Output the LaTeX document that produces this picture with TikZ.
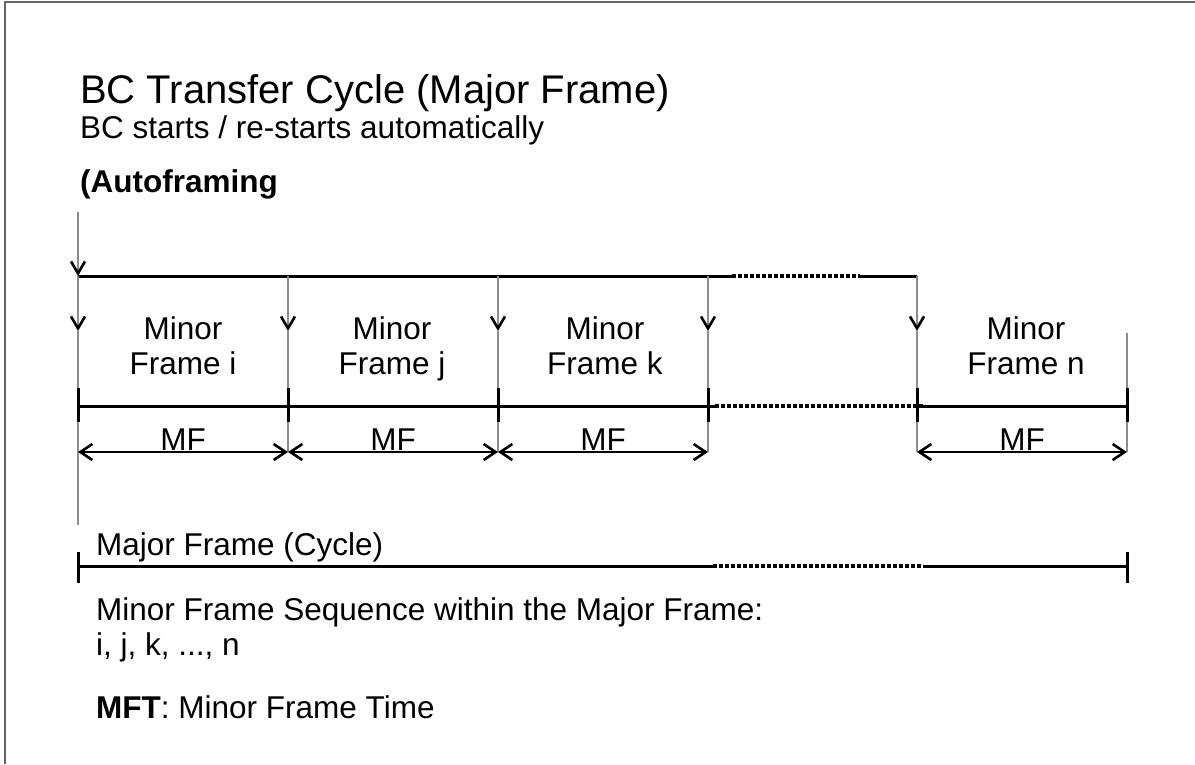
\documentclass[tikz,border=0pt]{standalone}
\usepackage{fontspec}
\setmainfont{Liberation Sans}
\usetikzlibrary{arrows.meta}
\begin{document}
\begin{tikzpicture}[x=1pt,y=-1pt,
  thickline/.style={line width=3pt,black},
  dotline/.style={line width=3.2pt,black,dash pattern=on 3.5pt off 2.5pt},
  guide/.style={line width=1.4pt,draw=black!45},
  downarrow/.style={line width=1.4pt,draw=black!45,-{Straight Barb[length=12pt,width=14pt,line width=2.6pt,color=black]}},
  tickmark/.style={line width=3pt,black},
  dimarrow/.style={line width=1.6pt,black,{Straight Barb[length=12pt,width=16pt,line width=2.6pt]}-{Straight Barb[length=12pt,width=16pt,line width=2.6pt]}},
  lbl/.style={font=\fontsize{31.5}{36}\selectfont,inner sep=0pt},
  boldlbl/.style={font=\fontsize{31.5}{36}\selectfont\bfseries,inner sep=0pt},
  titlelbl/.style={font=\fontsize{40}{46}\selectfont,inner sep=0pt},
  framelinestyle/.style={line width=2pt,draw=black!60}
]
\useasboundingbox (0,0) rectangle (1195,764);
% outer frame (left and top edges visible)
\coordinate (fbl) at (5,764);
\coordinate (ftl) at (5,2);
\coordinate (ftr) at (1195,2);
\draw[framelinestyle] (fbl) -- (ftl) -- (ftr);

% texts
\node[titlelbl,anchor=base west] (title) at (80,103) {BC Transfer Cycle (Major Frame)};
\node[lbl,anchor=base west] (sub) at (80,138) {BC starts / re-starts automatically};
\node[boldlbl,anchor=base west] (auto) at (80,192) {(Autoframing};

% coordinates
\coordinate (start) at (78,212);
\foreach \i/\x in {0/78,1/288,2/498,3/708,4/917}{
  \coordinate (T\i) at (\x,276);
  \coordinate (A\i) at (\x,331);
}
\foreach \i/\x in {0/78,1/288,2/498,3/708,4/917,5/1127}{
  \coordinate (L\i) at (\x,406);
  \coordinate (Lt\i) at (\x,388);
  \coordinate (Lb\i) at (\x,422);
  \coordinate (D\i) at (\x,452);
}
\coordinate (A5) at (1127,333);
\coordinate (G0) at (78,525);
\coordinate (td1) at (732,276);
\coordinate (td2) at (860,276);
\coordinate (ld1) at (715,406);
\coordinate (ld2) at (925,406);

% guide lines
\draw[guide] (A0) -- (G0);
\foreach \i in {1,2,3,4}{ \draw[guide] (A\i) -- (D\i); }
\draw[guide] (A5) -- (D5);

% start arrow
\draw[downarrow] (start) -- (T0);
% top line
\draw[thickline] (T0) -- (td1);
\draw[dotline] (td1) -- (td2);
\draw[thickline] (td2) -- (T4);
% down arrows
\foreach \i in {0,1,2,3,4}{ \draw[downarrow] (T\i) -- (A\i); }

% lower line
\draw[thickline] (L0) -- (L3) -- (ld1);
\draw[dotline] (ld1) -- (ld2);
\draw[thickline] (L4) -- (L5);
\foreach \i in {0,...,5}{ \draw[tickmark] (Lt\i) -- (Lb\i); }

% MF dimension arrows
\draw[dimarrow] (D0) -- (D1);
\draw[dimarrow] (D1) -- (D2);
\draw[dimarrow] (D2) -- (D3);
\draw[dimarrow] (D4) -- (D5);
\node[lbl,anchor=base] (mf1) at (183,450) {MF};
\node[lbl,anchor=base] (mf2) at (393,450) {MF};
\node[lbl,anchor=base] (mf3) at (603,450) {MF};
\node[lbl,anchor=base] (mf4) at (1022,450) {MF};

% minor frame labels
\node[lbl,anchor=base] (mi) at (183,339) {Minor};
\node[lbl,anchor=base] (fi) at (183,374) {Frame i};
\node[lbl,anchor=base] (mj) at (392,339) {Minor};
\node[lbl,anchor=base] (fj) at (392,374) {Frame j};
\node[lbl,anchor=base] (mk) at (605,339) {Minor};
\node[lbl,anchor=base] (fk) at (605,374) {Frame k};
\node[lbl,anchor=base] (mn) at (1026,339) {Minor};
\node[lbl,anchor=base] (fn) at (1026,374) {Frame n};

% major frame line
\coordinate (M0) at (78,566);
\coordinate (M1) at (1127,566);
\coordinate (md1) at (713,566);
\coordinate (md2) at (923,566);
\coordinate (Mt0) at (78,552);
\coordinate (Mb0) at (78,583);
\coordinate (Mt1) at (1127,552);
\coordinate (Mb1) at (1127,583);
\draw[thickline] (M0) -- (md1);
\draw[dotline] (md1) -- (md2);
\draw[thickline] (md2) -- (M1);
\draw[tickmark] (Mt0) -- (Mb0);
\draw[tickmark] (Mt1) -- (Mb1);
\node[lbl,anchor=base west] (major) at (96,555) {Major Frame (Cycle)};

% bottom texts
\node[lbl,anchor=base west] (seq) at (96,620) {Minor Frame Sequence within the Major Frame:};
\node[lbl,anchor=base west] (seq2) at (96,655) {i, j, k, ..., n};
\node[lbl,anchor=base west] (mft) at (96,718) {\textbf{MFT}: Minor Frame Time};
\end{tikzpicture}
\end{document}
